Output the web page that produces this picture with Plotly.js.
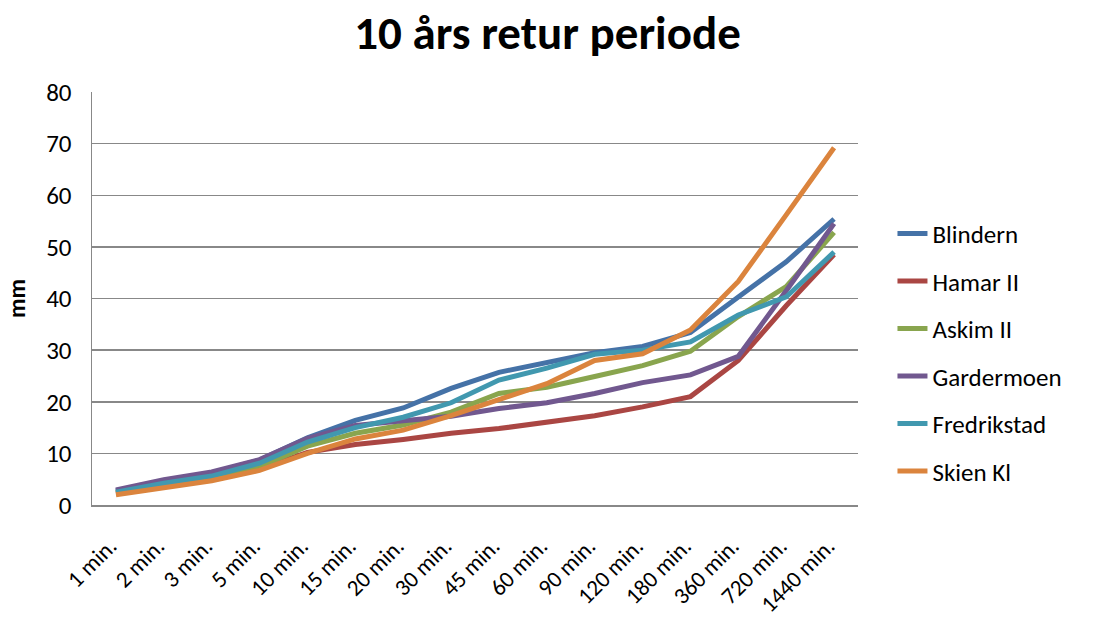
<!DOCTYPE html>
<html>
<head>
<meta charset="utf-8">
<script src="https://cdn.plot.ly/plotly-3.0.1.min.js"></script>
<style>html,body{margin:0;padding:0;background:#fff;}#chart{width:1095px;height:619px;}</style>
</head>
<body>
<div id="chart"></div>
<script>
const categories = ["1 min.","2 min.","3 min.","5 min.","10 min.","15 min.","20 min.","30 min.","45 min.","60 min.","90 min.","120 min.","180 min.","360 min.","720 min.","1440 min."];
const blindern    = [2.7, 4.7, 6.2, 8.7, 13.0, 16.4, 18.8, 22.6, 25.7, 27.6, 29.5, 30.7, 33.4, 40.3, 47.1, 55.4];
const hamar       = [2.3, 3.8, 5.0, 7.0, 10.2, 11.7, 12.7, 13.9, 14.8, 16.0, 17.3, 19.0, 21.0, 28.0, 38.6, 48.5];
const askim       = [2.4, 4.0, 5.2, 7.4, 11.4, 13.9, 15.5, 18.0, 21.6, 22.8, 24.9, 27.0, 29.8, 36.5, 42.3, 52.8];
const gardermoen  = [2.9, 4.9, 6.4, 8.8, 12.9, 15.4, 16.3, 17.2, 18.7, 19.8, 21.6, 23.7, 25.2, 28.8, 41.5, 54.5];
const fredrikstad = [2.5, 4.2, 5.6, 8.1, 12.2, 15.0, 17.0, 19.8, 24.2, 26.5, 29.2, 30.0, 31.6, 36.8, 40.3, 49.0];
const skien       = [2.0, 3.4, 4.7, 6.7, 10.0, 12.8, 14.5, 17.3, 20.3, 23.5, 28.0, 29.3, 33.9, 43.3, 56.2, 69.2];
const seriesNames = ["Blindern","Hamar II","Askim II","Gardermoen","Fredrikstad","Skien Kl"];
const seriesData = [blindern, hamar, askim, gardermoen, fredrikstad, skien];
const colors = ["#4572A7","#AA4643","#89A54E","#71588F","#4198AF","#DB843D"];
const yTicks = [0,10,20,30,40,50,60,70,80];

const FONT = "Carlito, Calibri, Lato, sans-serif";
const traces = seriesNames.map((n,i)=>({
  type:'scatter', mode:'lines', name:n, x:categories, y:seriesData[i],
  legendgroup:'g'+i,
  line:{color:colors[i], width:5, shape:'linear'}
}));

const layout = {
  width:1095, height:619,
  margin:{l:92, r:237, t:92, b:114},
  paper_bgcolor:'#fff', plot_bgcolor:'#fff',
  title:{text:'<b>10 års retur periode</b>', font:{family:FONT, size:47, color:'#000'},
         x:0.5, xref:'container', xanchor:'center', y:0.948, yref:'container', yanchor:'middle'},
  showlegend:true,
  legend:{x:1.045, xanchor:'left', y:0.37, yanchor:'middle', font:{family:FONT, size:25, color:'#000'},
          tracegroupgap:12, bgcolor:'rgba(0,0,0,0)'},
  xaxis:{type:'category', range:[-0.5, categories.length-0.5], tickangle:-45,
         tickfont:{family:FONT, size:23, color:'#000'},
         showline:true, linecolor:'#888', linewidth:1.5, showgrid:false, ticks:'', zeroline:false,
         ticklabelstandoff:17, ticklabelshift:-6, automargin:false},
  yaxis:{range:[0,80], tickvals:yTicks, ticktext:yTicks.map(String), tickfont:{family:FONT, size:25, color:'#000'},
         showline:true, linecolor:'#888', linewidth:1.5, showgrid:true, gridcolor:'#888', gridwidth:1.5,
         zeroline:false, ticks:'', ticklabelstandoff:14, automargin:false,
         title:{text:'<b>mm</b>', font:{family:FONT, size:24, color:'#000'}, standoff:14}}
};
Plotly.newPlot('chart', traces, layout, {staticPlot:true, displayModeBar:false});
</script>
</body>
</html>
